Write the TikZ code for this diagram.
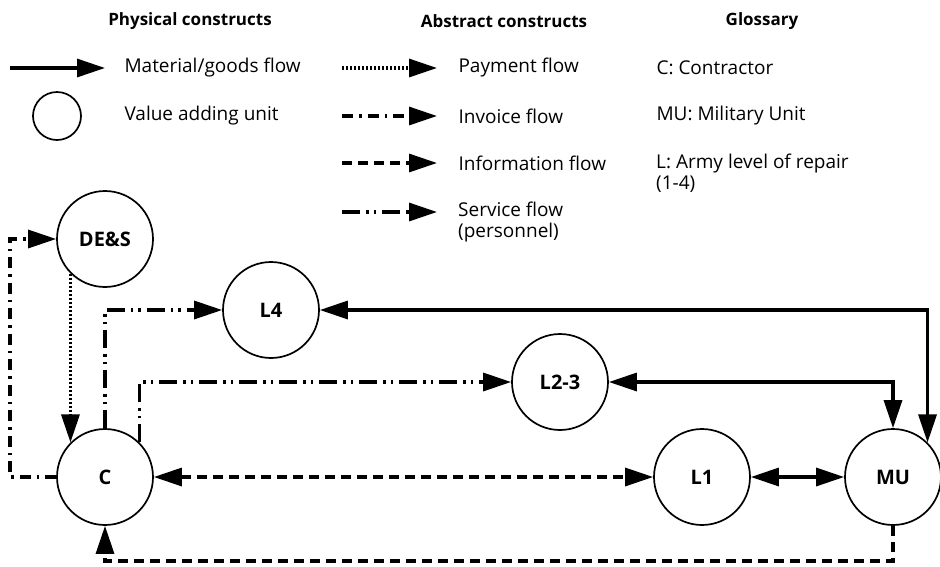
\documentclass[tikz,border=0pt]{standalone}
\usepackage{fontspec}
\setmainfont{Open Sans}
\usetikzlibrary{arrows.meta}
\begin{document}
\begin{tikzpicture}[x=1pt,y=-1pt,
  unit/.style={draw,circle,line width=1.7pt,minimum size=96pt,inner sep=0pt,font=\fontsize{20}{24}\selectfont\bfseries},
  lunit/.style={draw,circle,line width=1.7pt,minimum size=48pt,inner sep=0pt},
  flow/.style={line width=3.2pt,>={Triangle[length=28pt,width=18pt]}},
  material/.style={flow},
  payment/.style={flow,dash pattern=on 2.4pt off 1.6pt},
  invoice/.style={flow,dash pattern=on 11pt off 6pt on 2.5pt off 6pt},
  info/.style={flow,dash pattern=on 10pt off 6pt},
  service/.style={flow,dash pattern=on 18pt off 6pt on 2.5pt off 5pt on 2.5pt off 6pt},
  head/.style={font=\fontsize{17}{20}\selectfont\bfseries},
  txt/.style={font=\fontsize{19}{21}\selectfont,anchor=west,align=left},
]
\useasboundingbox (0,0) rectangle (940,566);
% headers
\node[head] (h1) at (190,21) {Physical constructs};
\node[head] (h2) at (504,21) {Abstract constructs};
\node[head] (h3) at (762,21) {Glossary};
% legend
\coordinate (m1) at (10,68); \coordinate (m2) at (105,68);
\draw[material,->] (m1) -- (m2);
\node[txt] (tm) at (121,68) {Material/goods flow};
\node[lunit] (lc) at (57,116) {};
\node[txt] (tv) at (121,116) {Value adding unit};
\coordinate (p1) at (342,68); \coordinate (p2) at (437,68);
\draw[payment,->] (p1) -- (p2);
\node[txt] (tp) at (455,68) {Payment flow};
\coordinate (i1) at (342,116); \coordinate (i2) at (437,116);
\draw[invoice,->] (i1) -- (i2);
\node[txt] (ti) at (455,116) {Invoice flow};
\coordinate (f1) at (342,163); \coordinate (f2) at (437,163);
\draw[info,->] (f1) -- (f2);
\node[txt] (tf) at (455,163) {Information flow};
\coordinate (s1) at (342,212); \coordinate (s2) at (437,212);
\draw[service,->] (s1) -- (s2);
\node[txt,anchor=north west,inner sep=0pt] (ts) at (458,202) {Service flow\\(personnel)};
\node[txt] (g1) at (653,68) {C: Contractor};
\node[txt] (g2) at (653,116) {MU: Military Unit};
\node[txt,anchor=north west,inner sep=0pt] (g3) at (656,154) {L: Army level of repair\\(1-4)};
% units
\node[unit] (DES) at (105,239) {DE\&S};
\node[unit] (L4) at (271,310) {L4};
\node[unit] (L23) at (560,382) {L2-3};
\node[unit] (C) at (105,477) {C};
\node[unit] (L1) at (702,477) {L1};
\node[unit] (MU) at (893,477) {MU};
% connectors
\coordinate (cl) at (10,477);
\draw[invoice,->] (C.west) -- (cl) |- (DES.west);
\draw[payment,->] (DES.south west) -- (C.north west);
\draw[service,->] (C.north) |- (L4.west);
\draw[service,->] (C.north east) |- (L23.west);
\draw[info,<->] (C.east) -- (L1.west);
\draw[material,<->] (L1.east) -- (MU.west);
\draw[material,<->] (L23.east) -| (MU.north);
\draw[material,<->] (L4.east) -| (MU.north east);
\coordinate (mb) at (893,561);
\draw[info,->] (MU.south) -- (mb) -| (C.south);
\end{tikzpicture}
\end{document}
